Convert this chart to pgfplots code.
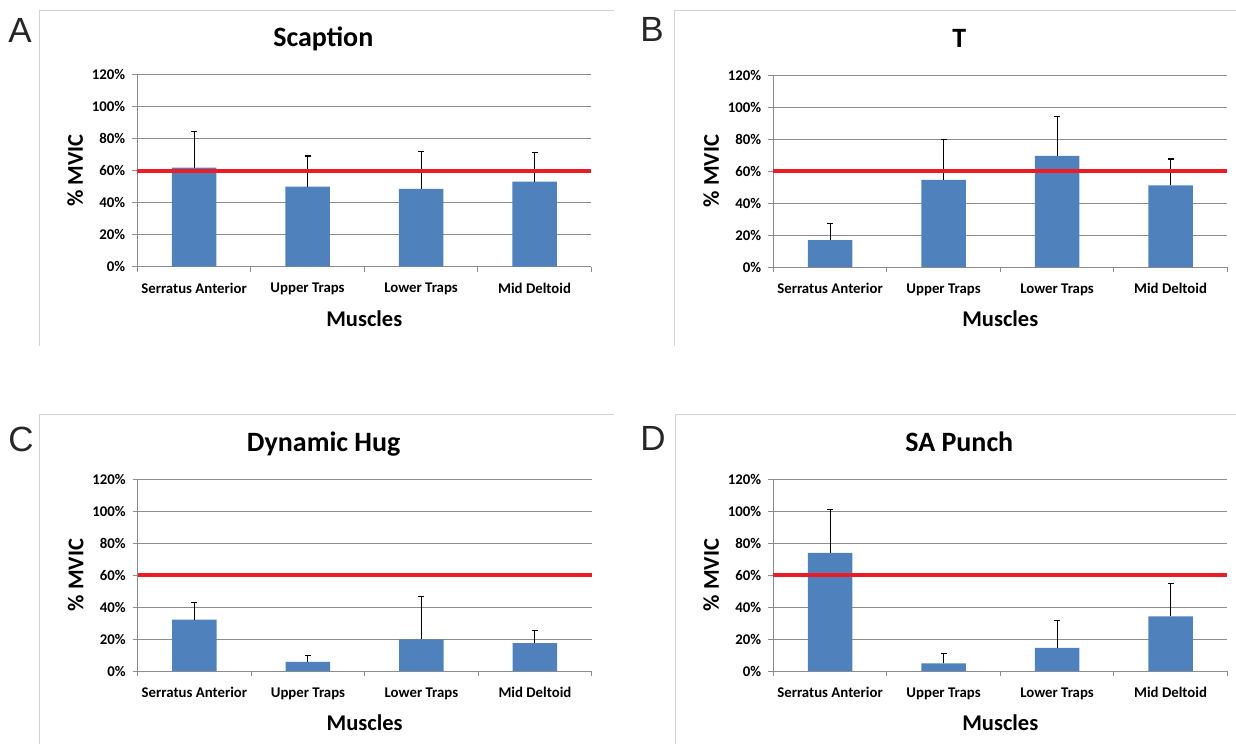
\documentclass[border=0pt]{standalone}
\usepackage{fontspec}
\setmainfont{Carlito}
\newfontfamily\letterfont{Liberation Sans}
\usepackage{pgfplots}
\pgfplotsset{compat=1.18}
\definecolor{barblue}{RGB}{79,129,189}
\definecolor{gridgray}{RGB}{140,140,140}
\definecolor{framegray}{RGB}{210,210,210}
\definecolor{threshred}{RGB}{237,28,36}
\pgfplotsset{panel/.style={
  scale only axis, width=227pt, height=96pt, anchor=south west,
  xmin=-0.5, xmax=3.5, ymin=0, ymax=120,
  axis x line=bottom, axis y line=left,
  axis line style={-, draw=gridgray, line width=0.5pt},
  xtick={-0.5,0.5,1.5,2.5,3.5},
  x tick label as interval,
  xticklabels={Serratus Anterior,Upper Traps,Lower Traps,Mid Deltoid},
  ytick={0,20,...,120},
  yticklabels={0\%,20\%,40\%,60\%,80\%,100\%,120\%},
  ymajorgrids, grid style={gridgray, line width=0.5pt},
  tick align=outside, major tick length=2.5pt,
  tick style={gridgray, line width=0.5pt},
  tick label style={font=\fontsize{7.4}{8.9}\selectfont\bfseries, text=black},
  xticklabel style={yshift=-2.25pt},
  xlabel={Muscles}, ylabel={\% MVIC},
  label style={font=\fontsize{11.25}{13}\selectfont\bfseries},
  xlabel style={at={(axis description cs:0.5,-0.2708)}, anchor=center},
  ylabel style={at={(axis description cs:-0.1366,0.5)}, anchor=center},
  title style={at={(axis description cs:0.4097,1.1458)}, anchor=base, yshift=-6pt, font=\fontsize{14}{16}\selectfont\bfseries},
  clip=false,
}}
\pgfplotsset{barsty/.style={ybar, bar width=22.25pt, fill=barblue, draw=none,
  error bars/.cd, y dir=plus, y explicit,
  error bar style={black, line width=0.5pt},
  error mark options={rotate=90, black, mark size=1.5pt, line width=0.6pt}}}
\begin{document}
\begin{tikzpicture}
\path[use as bounding box] (0,0) rectangle (618pt,-372pt);
% panel frames
\draw[framegray, line width=0.5pt] (19.65pt,-173pt) -- (19.65pt,-5.35pt) -- (307pt,-5.35pt);
\draw[framegray, line width=0.5pt] (337.15pt,-173pt) -- (337.15pt,-5.35pt) -- (618pt,-5.35pt);
\draw[framegray, line width=0.5pt] (19.65pt,-372pt) -- (19.65pt,-207.35pt) -- (307pt,-207.35pt);
\draw[framegray, line width=0.5pt] (337.85pt,-372pt) -- (337.85pt,-207.35pt) -- (618pt,-207.35pt);
% panel letters
\node[anchor=base west, inner sep=0pt, font=\letterfont\fontsize{17.5}{17.5}\selectfont, text=black!85] at (4pt,-21.35pt) {A};
\node[anchor=base west, inner sep=0pt, font=\letterfont\fontsize{17.5}{17.5}\selectfont, text=black!85] at (320pt,-20.85pt) {B};
\node[anchor=base west, inner sep=0pt, font=\letterfont\fontsize{17.5}{17.5}\selectfont, text=black!85] at (4pt,-225.85pt) {C};
\node[anchor=base west, inner sep=0pt, font=\letterfont\fontsize{17.5}{17.5}\selectfont, text=black!85] at (320pt,-225pt) {D};

\begin{axis}[panel, at={(68.65pt,-133.35pt)}, title={Scaption}]
\addplot[barsty] coordinates {(0,62) +- (0,22.4) (1,50) +- (0,19.2) (2,48.6) +- (0,23.3) (3,53.1) +- (0,18.2)};
\addplot[threshred, line width=2pt] coordinates {(-0.5,60) (3.5,60)};
\end{axis}

\begin{axis}[panel, at={(386.65pt,-133.5pt)}, title={T}]
\addplot[barsty] coordinates {(0,16.8) +- (0,10.3) (1,54.5) +- (0,25) (2,69.4) +- (0,24.8) (3,51) +- (0,16.5)};
\addplot[threshred, line width=2pt] coordinates {(-0.5,60) (3.5,60)};
\end{axis}

\begin{axis}[panel, at={(68.85pt,-335.5pt)}, title={Dynamic Hug}]
\addplot[barsty] coordinates {(0,32.1) +- (0,10.9) (1,5.7) +- (0,3.9) (2,19.7) +- (0,26.7) (3,17.4) +- (0,7.8)};
\addplot[threshred, line width=2pt] coordinates {(-0.5,60) (3.5,60)};
\end{axis}

\begin{axis}[panel, at={(386.65pt,-335.5pt)}, title={SA Punch}]
\addplot[barsty] coordinates {(0,73.8) +- (0,27.3) (1,4.8) +- (0,6.3) (2,14.5) +- (0,17.2) (3,34.2) +- (0,20.3)};
\addplot[threshred, line width=2pt] coordinates {(-0.5,60) (3.5,60)};
\end{axis}
\end{tikzpicture}
\end{document}
